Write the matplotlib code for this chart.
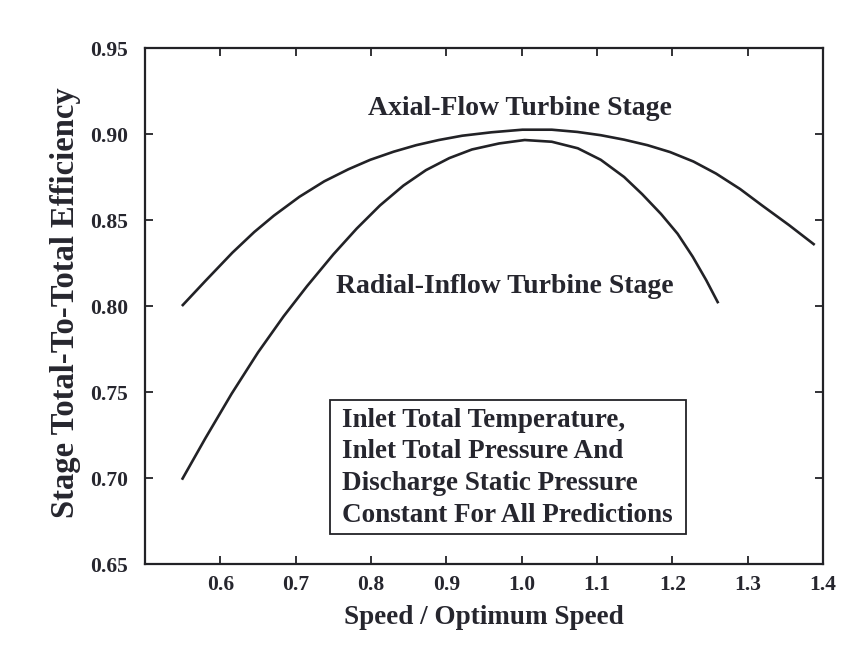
import matplotlib
matplotlib.use("Agg")
import matplotlib.pyplot as plt
from matplotlib.patches import Rectangle

# ---- data ----
axial_x = [0.549, 0.580, 0.616, 0.645, 0.671, 0.705, 0.738, 0.770, 0.799, 0.830,
           0.860, 0.890, 0.921, 0.960, 1.001, 1.040, 1.074, 1.105, 1.136, 1.167,
           1.197, 1.228, 1.258, 1.290, 1.319, 1.355, 1.389]
axial_y = [0.800, 0.8145, 0.831, 0.843, 0.8525, 0.8635, 0.8725, 0.8795, 0.885, 0.8897,
           0.8935, 0.8965, 0.899, 0.901, 0.9025, 0.9025, 0.9012, 0.8993, 0.8967, 0.8935,
           0.8895, 0.884, 0.877, 0.868, 0.8585, 0.847, 0.8355]

radial_x = [0.549, 0.580, 0.615, 0.650, 0.684, 0.715, 0.750, 0.781, 0.812, 0.843,
            0.873, 0.904, 0.934, 0.970, 1.004, 1.040, 1.0745, 1.105, 1.136, 1.160,
            1.185, 1.207, 1.227, 1.245, 1.261]
radial_y = [0.699, 0.723, 0.749, 0.773, 0.794, 0.8115, 0.830, 0.845, 0.8585, 0.870,
            0.879, 0.886, 0.891, 0.8945, 0.8965, 0.8955, 0.8917, 0.885, 0.875, 0.865,
            0.8535, 0.842, 0.8287, 0.815, 0.8016]

x_ticks = [0.6, 0.7, 0.8, 0.9, 1.0, 1.1, 1.2, 1.3, 1.4]
x_tick_labels = ["0.6", "0.7", "0.8", "0.9", "1.0", "1.1", "1.2", "1.3", "1.4"]
y_ticks = [0.65, 0.70, 0.75, 0.80, 0.85, 0.90, 0.95]
y_tick_labels = ["0.65", "0.70", "0.75", "0.80", "0.85", "0.90", "0.95"]

axial_label = "Axial-Flow Turbine Stage"
radial_label = "Radial-Inflow Turbine Stage"
note_lines = ["Inlet Total Temperature,",
              "Inlet Total Pressure And",
              "Discharge Static Pressure",
              "Constant For All Predictions"]
x_label = "Speed / Optimum Speed"
y_label = "Stage Total-To-Total Efficiency"

# ---- styling ----
plt.rcParams['font.family'] = ['Liberation Serif', 'DejaVu Serif']
plt.rcParams['font.weight'] = 'bold'
ink = "#26262e"
line_c = "#222226"

W, H = 860, 650
fig = plt.figure(figsize=(W / 100, H / 100), dpi=100, facecolor="white")
L, R, T, B = 145, 823, 48, 564
ax = fig.add_axes([L / W, 1 - B / H, (R - L) / W, (B - T) / H])
ax.set_facecolor("white")

ax.plot(axial_x, axial_y, color=line_c, lw=1.9, solid_capstyle='butt', solid_joinstyle='round')
ax.plot(radial_x, radial_y, color=line_c, lw=1.9, solid_capstyle='butt', solid_joinstyle='round')

ax.set_xlim(0.5, 1.4)
ax.set_ylim(0.65, 0.95)
ax.set_xticks(x_ticks)
ax.set_xticklabels(x_tick_labels)
ax.set_yticks(y_ticks)
ax.set_yticklabels(y_tick_labels)
ax.tick_params(direction='in', top=True, right=True, length=6, width=1.3,
               color=line_c, labelcolor=ink, labelsize=15.5)
ax.tick_params(axis='x', pad=8)
ax.tick_params(axis='y', pad=12)
for s in ax.spines.values():
    s.set_linewidth(1.6)
    s.set_color(line_c)

ax.set_xlabel(x_label, fontsize=19.5, color=ink, fontweight='bold')
ax.xaxis.label.set_va('center')
ax.xaxis.set_label_coords(0.5, -0.103)
ax.set_ylabel(y_label, fontsize=23.5, color=ink, fontweight='bold')
ax.yaxis.label.set_va('center')
ax.yaxis.set_label_coords(-0.117, 0.506)

ax.text(0.998, 0.911, axial_label, ha='center', va='baseline', fontsize=20,
        color=ink, fontweight='bold')
ax.text(0.978, 0.8076, radial_label, ha='center', va='baseline', fontsize=20,
        color=ink, fontweight='bold')

# note box
bx0, bx1 = (330 - L) / (R - L), (686 - L) / (R - L)
by0, by1 = (B - 534) / (B - T), (B - 400) / (B - T)
ax.add_patch(Rectangle((bx0, by0), bx1 - bx0, by1 - by0, transform=ax.transAxes,
                       fill=False, lw=1.3, ec=line_c))
tx = (342 - L) / (R - L)
for i, line in enumerate(note_lines):
    base_px = 426.7 + i * 31.7
    ax.text(tx, (B - base_px) / (B - T), line, transform=ax.transAxes,
            ha='left', va='baseline', fontsize=19.5, color=ink, fontweight='bold')

fig.savefig("out.png", dpi=100, facecolor="white")
